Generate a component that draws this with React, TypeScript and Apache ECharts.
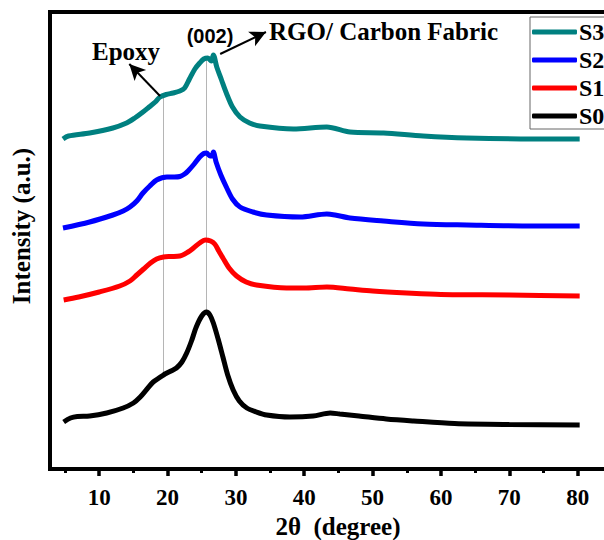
import React, { useEffect, useRef } from "react";
import * as echarts from "echarts";

// 2θ (degree), intensity (a.u.)
const S0: number[][] = [
  [4.8, 47], [5.8, 51], [6.8, 52.5], [8.6, 53], [11.1, 56], [13.5, 61], [15, 66], [16.0, 72], [17.0, 80], [17.9, 87],
  [19.4, 94], [20.5, 98], [21.3, 101], [22.1, 107], [22.8, 116], [23.5, 128], [24.2, 142], [25.0, 153], [25.7, 157], [26.2, 154], [26.7, 146],
  [27.4, 130], [28.1, 112], [28.8, 94], [29.6, 79], [30.5, 68], [31.6, 61], [33, 57], [34.5, 54], [37.9, 52], [41.3, 53], [43.8, 56],
  [45.2, 55], [48, 53], [52, 50], [56, 48], [62, 45.5], [70, 44.5], [80.3, 44],
];
const S1: number[][] = [
  [4.8, 169], [7, 172], [10, 177], [13, 183], [14.5, 188], [15.5, 194], [16.5, 200], [17.5, 206],
  [18.4, 210], [19.4, 212], [20.5, 212.5], [21.8, 213], [23, 217], [23.8, 221], [24.7, 226], [25.5, 229], [26.3, 228],
  [26.9, 225], [27.5, 218], [28.1, 211], [29, 201], [30.1, 193], [31.5, 187], [33, 184], [37.4, 181],
  [40, 181], [43.3, 182], [46.7, 180], [50, 178], [55, 176], [60, 174.5], [70, 174], [80.3, 173],
];
const S2: number[][] = [
  [4.7, 241], [8.6, 247], [12.0, 254], [13.5, 258], [14.5, 262], [15.5, 268], [16.4, 276], [17.4, 283], [18.4, 289], [19.9, 292],
  [21, 292], [21.8, 292.5], [22.5, 295], [23.0, 298], [23.9, 305], [24.7, 312], [25.3, 315.5], [25.7, 316], [26.2, 313], [26.5, 313], [26.7, 317], [27.1, 307],
  [27.8, 294], [28.6, 282], [29.5, 270], [30.6, 262], [32.5, 257], [34.5, 254], [39.4, 252], [43.3, 255], [44.5, 254],
  [46.7, 251], [51.6, 248], [57.4, 245], [63.8, 244], [73.5, 243], [80.3, 243],
];
const S3: number[][] = [
  [4.7, 330], [5.5, 333], [8.6, 336], [12, 341], [14, 346], [15.2, 351], [16.4, 357], [17.3, 362], [18.2, 367],
  [18.9, 372], [19.8, 374.5], [20.8, 376], [21.8, 378], [22.5, 381], [23.2, 390], [24, 400], [24.7, 406], [25.3, 410], [25.9, 411], [26.4, 408], [26.7, 414],
  [27.2, 402], [27.9, 389], [28.6, 376], [29.5, 362], [30.6, 352], [32, 346], [33.5, 343], [38.4, 340], [43.3, 342], [46.7, 337],
  [51.6, 336], [57.4, 333], [63.8, 331], [73.5, 330], [80.3, 330],
];

const SERIES_NAMES = ["S0", "S1", "S2", "S3"];
const LEGEND_ORDER = ["S3", "S2", "S1", "S0"];
const COLORS = ["#000000", "#ff0000", "#0000ff", "#008080"];

const X_MAJOR = [10, 20, 30, 40, 50, 60, 70, 80];
const X_MINOR = [5, 15, 25, 35, 45, 55, 65, 75];

// reference lines: [2θ, bottom intensity, top intensity]
const REF_LINES: number[][] = [
  [19.3, 94, 373],
  [25.7, 157, 412],
];
// annotation arrows: [x0, y0, x1, y1]
const ARROWS: number[][] = [
  [18.9, 373, 14.4, 405],
  [27.7, 415, 34.4, 437],
];

const SERIF = "'Liberation Serif', 'Times New Roman', serif";
const SANS = "'Liberation Sans', Arial, sans-serif";

export default function App() {
  const ref = useRef<HTMLDivElement>(null);
  useEffect(() => {
    const chart = echarts.init(ref.current!, null, { renderer: "svg" });
    const data = [S0, S1, S2, S3];
    const series: any[] = data.map((d, i) => ({
      name: SERIES_NAMES[i],
      type: "line",
      data: d,
      showSymbol: false,
      smooth: 0.3,
      z: 3,
      color: COLORS[i],
      lineStyle: { width: 5, color: COLORS[i] },
    }));
    series[0].markLine = {
      silent: true,
      symbol: "none",
      z: 1,
      label: { show: false },
      lineStyle: { color: "#b5b5b5", width: 1, type: "solid" },
      data: REF_LINES.map((r) => [{ coord: [r[0], r[1]] }, { coord: [r[0], r[2]] }]),
    };
    series[3].markLine = {
      silent: true,
      symbol: ["none", "arrow"],
      symbolSize: [12, 16],
      z: 5,
      label: { show: false },
      lineStyle: { color: "#000", width: 2, type: "solid" },
      data: ARROWS.map((a) => [{ coord: [a[0], a[1]] }, { coord: [a[2], a[3]] }]),
    };

    chart.setOption({
      animation: false,
      backgroundColor: "#fff",
      grid: {
        left: 50,
        right: 20,
        top: 12,
        bottom: 71,
        show: true,
        borderColor: "#000",
        borderWidth: 4,
      },
      legend: {
        data: LEGEND_ORDER,
        orient: "vertical",
        left: 530,
        top: 17,
        padding: [3, 40, 1, 2],
        itemGap: 4,
        itemWidth: 45,
        itemHeight: 5,
        icon: "roundRect",
        borderColor: "#666",
        borderWidth: 1,
        textStyle: {
          fontFamily: SERIF,
          fontWeight: "bold",
          fontSize: 24,
          lineHeight: 24,
          color: "#000",
          padding: [0, 0, 0, -3],
        },
      },
      xAxis: [
        {
          type: "value",
          min: 2.8,
          max: 86.2,
          splitLine: { show: false },
          axisLine: { show: true, onZero: false, lineStyle: { color: "#000", width: 4 } },
          axisTick: { show: true, customValues: X_MAJOR, length: 7, lineStyle: { color: "#000", width: 3.5 } },
          axisLabel: {
            customValues: X_MAJOR,
            margin: 17,
            fontFamily: SERIF,
            fontWeight: "bold",
            fontSize: 23,
            color: "#000",
          },
        },
        {
          type: "value",
          min: 2.8,
          max: 86.2,
          position: "bottom",
          splitLine: { show: false },
          axisLine: { show: false },
          axisLabel: { show: false },
          axisTick: { show: true, customValues: X_MINOR, length: 4, lineStyle: { color: "#000", width: 3 } },
        },
      ],
      yAxis: {
        type: "value",
        min: 0,
        max: 457,
        splitLine: { show: false },
        axisTick: { show: false },
        axisLabel: { show: false },
        axisLine: { show: true, lineStyle: { color: "#000", width: 4 } },
      },
      graphic: [
        {
          type: "text",
          x: 21,
          y: 226,
          rotation: Math.PI / 2,
          style: {
            text: "Intensity (a.u.)",
            font: `bold 25px ${SERIF}`,
            fill: "#000",
            textAlign: "center",
            textVerticalAlign: "middle",
          },
        },
        {
          type: "text",
          x: 338,
          y: 526,
          style: {
            text: "2θ  (degree)",
            font: `bold 25px ${SERIF}`,
            fill: "#000",
            textAlign: "center",
            textVerticalAlign: "middle",
          },
        },
        {
          type: "text",
          x: 126,
          y: 51,
          style: {
            text: "Epoxy",
            font: `bold 25px ${SERIF}`,
            fill: "#000",
            textAlign: "center",
            textVerticalAlign: "middle",
          },
        },
        {
          type: "text",
          x: 210,
          y: 36,
          style: {
            text: "(002)",
            font: `bold 20px ${SANS}`,
            fill: "#000",
            textAlign: "center",
            textVerticalAlign: "middle",
          },
        },
        {
          type: "text",
          x: 269,
          y: 31,
          style: {
            text: "RGO/ Carbon Fabric",
            font: `bold 25px ${SERIF}`,
            fill: "#000",
            textAlign: "left",
            textVerticalAlign: "middle",
          },
        },
      ],
      series,
    });
    return () => chart.dispose();
  }, []);
  return (
    <div
      style={{
        position: "fixed",
        left: 0,
        top: 0,
        width: 604,
        height: 540,
        overflow: "hidden",
        background: "#fff",
      }}
    >
      <div ref={ref} style={{ width: 640, height: 540 }} />
    </div>
  );
}
